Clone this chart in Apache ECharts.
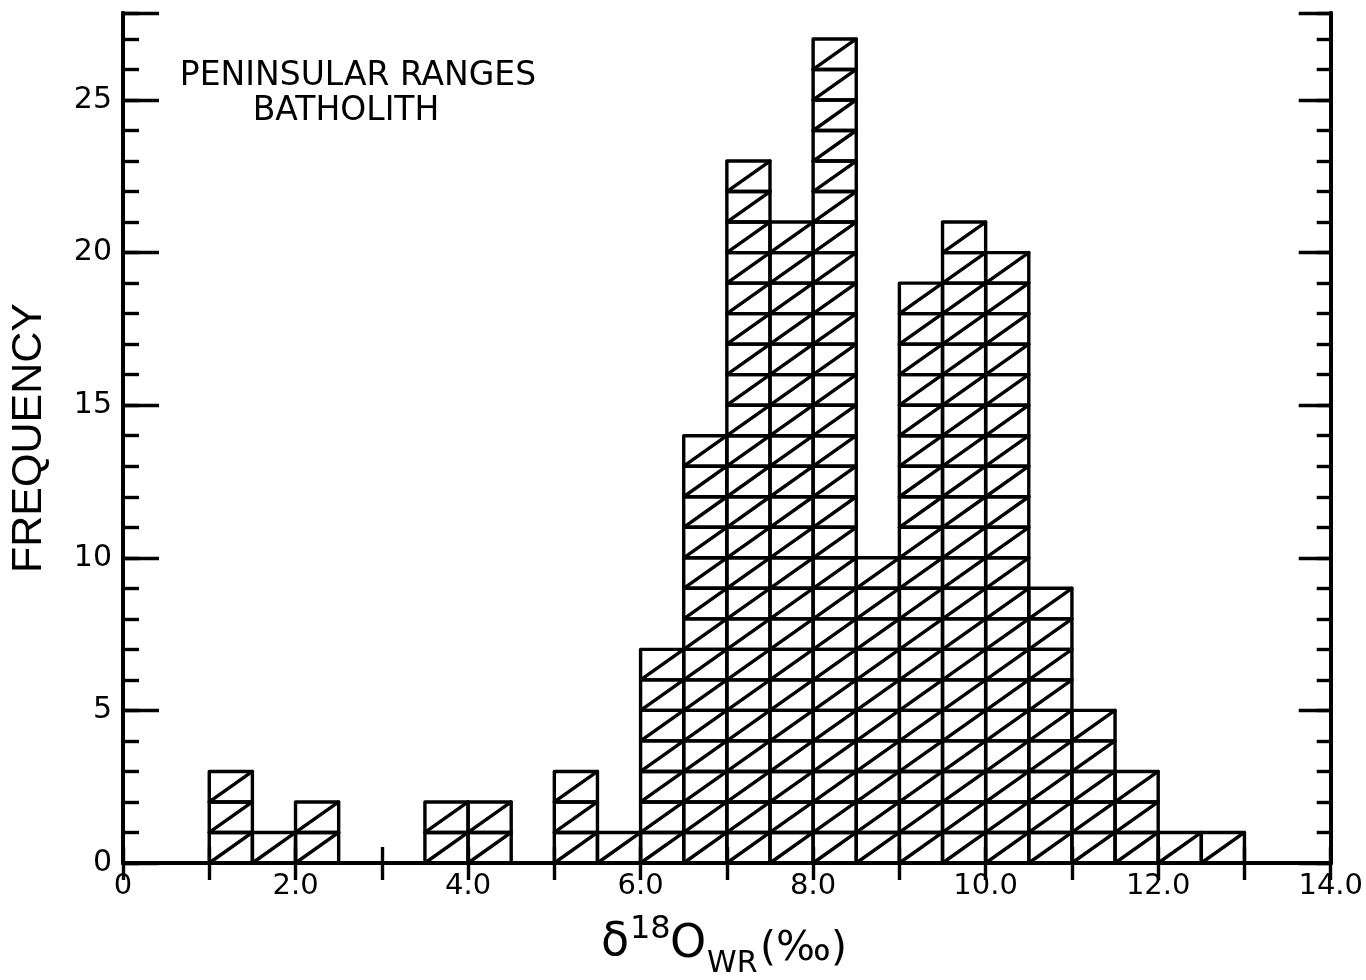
<!DOCTYPE html>
<html>
<head>
<meta charset="utf-8">
<script src="https://cdn.jsdelivr.net/npm/echarts@6.0.0/dist/echarts.min.js"></script>
<style>
html,body{margin:0;padding:0;background:#fff;}
#chart{width:1366px;height:980px;}
</style>
</head>
<body>
<div id="chart"></div>
<script>
// ---- data ----
const binStart = [1.0, 1.5, 2.0, 2.5, 3.0, 3.5, 4.0, 4.5, 5.0, 5.5, 6.0, 6.5, 7.0, 7.5, 8.0, 8.5, 9.0, 9.5, 10.0, 10.5, 11.0, 11.5, 12.0, 12.5];
const frequency = [3, 1, 2, 0, 0, 2, 2, 0, 3, 1, 7, 14, 23, 21, 27, 10, 19, 21, 20, 9, 5, 3, 1, 1];
const binWidth = 0.5;
const xTickValues = [0, 2, 4, 6, 8, 10, 12, 14];
const xTickLabels = ['0', '2.0', '4.0', '6.0', '8.0', '10.0', '12.0', '14.0'];
const yTickLabels = [0, 5, 10, 15, 20, 25];
const titleLines = ['PENINSULAR RANGES', 'BATHOLITH'];
const yName = 'FREQUENCY';

const histData = binStart.map((s, i) => [s, s + binWidth, frequency[i]]);

const FONT = '"DejaVu Sans", "Liberation Sans", sans-serif';
const INK = '#000';
const CELL_W = 3.4;

function renderCell(params, api) {
  const x0 = api.value(0), x1 = api.value(1), n = api.value(2);
  const children = [];
  for (let k = 0; k < n; k++) {
    const bl = api.coord([x0, k]);
    const tr = api.coord([x1, k + 1]);
    children.push({
      type: 'rect',
      shape: { x: bl[0], y: tr[1], width: tr[0] - bl[0], height: bl[1] - tr[1] },
      style: { fill: 'none', stroke: INK, lineWidth: CELL_W, lineJoin: 'round' }
    });
    children.push({
      type: 'line',
      shape: { x1: bl[0], y1: bl[1], x2: tr[0], y2: tr[1] },
      style: { stroke: INK, lineWidth: CELL_W, lineCap: 'round' }
    });
  }
  return { type: 'group', children: children };
}

const axisLineStyle = { show: true, lineStyle: { color: INK, width: 4 } };
const yMax = 27.85;

const option = {
  animation: false,
  backgroundColor: '#fff',
  grid: { left: 121, right: 32, top: 13, bottom: 117, containLabel: false },
  xAxis: [
    {
      type: 'value', position: 'bottom', min: 0, max: 14, interval: 1,
      axisLine: axisLineStyle,
      axisTick: { show: true, inside: true, length: 16, lineStyle: { color: INK, width: 3.4 } },
      axisLabel: {
        show: true, margin: 9, color: INK, fontFamily: FONT, fontSize: 29,
        formatter: v => { const i = xTickValues.indexOf(v); return i >= 0 ? xTickLabels[i] : ''; }
      },
      splitLine: { show: false }
    },
    {
      type: 'value', position: 'top', min: 0, max: 14, interval: 1,
      axisLine: axisLineStyle,
      axisTick: { show: true, inside: true, length: 17, lineStyle: { color: INK, width: 3.4 } },
      axisLabel: { show: false },
      splitLine: { show: false }
    }
  ],
  yAxis: [
    {
      type: 'value', position: 'left', min: 0, max: yMax, interval: 5,
      axisLine: axisLineStyle,
      axisTick: { show: true, inside: true, length: 36, lineStyle: { color: INK, width: 3.4 } },
      axisLabel: {
        show: true, margin: 11, color: INK, fontFamily: FONT, fontSize: 30,
        formatter: v => yTickLabels.indexOf(v) >= 0 ? String(v) : ''
      },
      name: yName, nameLocation: 'middle', nameRotate: 90, nameGap: 72,
      nameTextStyle: { color: INK, fontFamily: '"Liberation Sans", Arial, sans-serif', fontSize: 43 },
      splitLine: { show: false }
    },
    {
      type: 'value', position: 'left', min: 0, max: yMax, interval: 1,
      axisLine: axisLineStyle,
      axisTick: { show: true, inside: true, length: 16, lineStyle: { color: INK, width: 3.4 } },
      axisLabel: { show: false },
      splitLine: { show: false }
    },
    {
      type: 'value', position: 'right', min: 0, max: yMax, interval: 5,
      axisLine: axisLineStyle,
      axisTick: { show: true, inside: true, length: 32, lineStyle: { color: INK, width: 3.4 } },
      axisLabel: { show: false },
      splitLine: { show: false }
    },
    {
      type: 'value', position: 'right', min: 0, max: yMax, interval: 1,
      axisLine: axisLineStyle,
      axisTick: { show: true, inside: true, length: 14, lineStyle: { color: INK, width: 3.4 } },
      axisLabel: { show: false },
      splitLine: { show: false }
    }
  ],
  series: [
    {
      type: 'custom',
      xAxisIndex: 0, yAxisIndex: 0,
      renderItem: renderCell,
      data: histData,
      encode: { x: [0, 1], y: 2 },
      clip: false,
      silent: true,
      z: 3
    }
  ],
  graphic: [
    { type: 'text', style: { x: 358, y: 76, text: titleLines[0], font: '33px ' + FONT, fill: INK, textAlign: 'center', textVerticalAlign: 'middle' } },
    { type: 'text', style: { x: 346, y: 111, text: titleLines[1], font: '33px ' + FONT, fill: INK, textAlign: 'center', textVerticalAlign: 'middle' } },
    // x-axis title: δ18O_WR (‰)
    { type: 'text', style: { x: 601, y: 943, text: 'δ', font: '46px ' + FONT, fill: INK, textAlign: 'left', textVerticalAlign: 'middle' } },
    { type: 'text', style: { x: 630, y: 930, text: '18', font: '32px ' + FONT, fill: INK, textAlign: 'left', textVerticalAlign: 'middle' } },
    { type: 'text', style: { x: 670, y: 945, text: 'O', font: '46px ' + FONT, fill: INK, textAlign: 'left', textVerticalAlign: 'middle' } },
    { type: 'text', style: { x: 707, y: 964, text: 'WR', font: '30px ' + FONT, fill: INK, textAlign: 'left', textVerticalAlign: 'middle' } },
    { type: 'text', style: { x: 760, y: 949, text: '(‰)', font: '41px ' + FONT, fill: INK, textAlign: 'left', textVerticalAlign: 'middle' } }
  ]
};

const chart = echarts.init(document.getElementById('chart'), null, { renderer: 'canvas' });
chart.setOption(option);
</script>
</body>
</html>
